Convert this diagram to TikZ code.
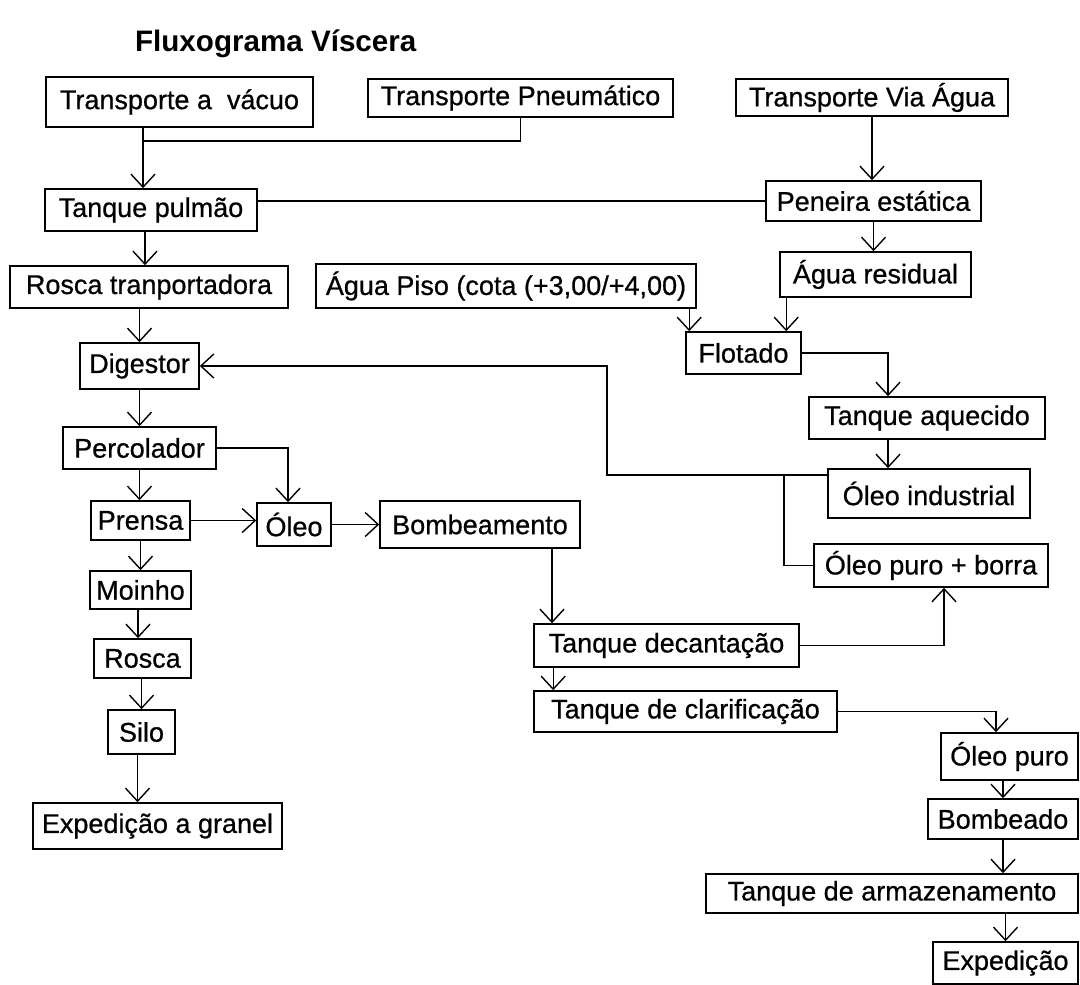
\documentclass[tikz,border=0pt]{standalone}
\usepackage{fontspec}
\setmainfont{Liberation Sans}
\newfontfamily\caixafont{Liberation Sans}[FakeBold=0.7]
\usetikzlibrary{arrows.meta}

\begin{document}
\begin{tikzpicture}[
x=0.5pt, y=-0.5pt,
font=\caixafont\fontsize{13.5}{16}\selectfont,
>={Straight Barb[length=6.5pt,width=12pt]},
caixa/.style={draw, line width=0.8pt, inner sep=0pt},
linha/.style={line width=0.7pt},
seta/.style={->, line width=0.7pt}]
\useasboundingbox (0,0) rectangle (1080,984);

% Titulo
\node[anchor=base west, font=\rmfamily\bfseries\fontsize{14.8}{18}\selectfont] (titulo) at (128,52) {Fluxograma Víscera};

% Caixas - lado esquerdo
\node[caixa, minimum width=133.5pt, minimum height=25pt] (vacuo) at (179.5,102) {Transporte a\ \ vácuo};
\node[caixa, minimum width=152.5pt, minimum height=19pt] (pneum) at (520.5,98) {Transporte Pneumático};
\node[caixa, minimum width=106pt, minimum height=21pt] (pulmao) at (151,210) {Tanque pulmão};
\node[caixa, minimum width=139pt, minimum height=21pt] (roscatr) at (149,287) {Rosca tranportadora};
\node[caixa, minimum width=59.5pt, minimum height=23pt] (digestor) at (139.5,366) {Digestor};
\node[caixa, minimum width=76.5pt, minimum height=21pt] (percolador) at (139.5,448) {Percolador};
\node[caixa, minimum width=49.5pt, minimum height=19.5pt] (prensa) at (140.5,520.5) {Prensa};
\node[caixa, minimum width=37pt, minimum height=21.5pt] (oleo) at (294,524.5) {Óleo};
\node[caixa, minimum width=100pt, minimum height=23.5pt] (bombeamento) at (480,524.5) {Bombeamento};
\node[caixa, minimum width=50.5pt, minimum height=19pt] (moinho) at (140.5,590) {Moinho};
\node[caixa, minimum width=48.5pt, minimum height=19.5pt] (rosca) at (142.5,658.5) {Rosca};
\node[caixa, minimum width=33.5pt, minimum height=22pt] (silo) at (141.5,732) {Silo};
\node[caixa, minimum width=124.5pt, minimum height=23pt] (granel) at (157.5,826) {Expedição a granel};

% Caixas - lado direito
\node[caixa, minimum width=136pt, minimum height=18.5pt] (viaagua) at (872,97.5) {Transporte Via Água};
\node[caixa, minimum width=107.5pt, minimum height=20pt] (peneira) at (873.5,201) {Peneira estática};
\node[caixa, minimum width=190pt, minimum height=22pt] (aguapiso) at (506,286) {Água Piso (cota (+3,00/+4,00)};
\node[caixa, minimum width=95.5pt, minimum height=22.5pt] (aguares) at (875.5,274.5) {Água residual};
\node[caixa, minimum width=57.5pt, minimum height=21pt] (flotado) at (743.5,353) {Flotado};
\node[caixa, minimum width=118pt, minimum height=21pt] (aquecido) at (927,418) {Tanque aquecido};
\node[caixa, minimum width=101pt, minimum height=24.5pt] (industrial) at (929,493.5) {Óleo industrial};
\node[caixa, minimum width=117pt, minimum height=21.5pt] (puroborra) at (931,565.5) {Óleo puro + borra};
\node[caixa, minimum width=132.5pt, minimum height=21.5pt] (decantacao) at (666.5,645.5) {Tanque decantação};
\node[caixa, minimum width=151.5pt, minimum height=20.5pt] (clarificacao) at (685.5,711.5) {Tanque de clarificação};
\node[caixa, minimum width=68.5pt, minimum height=23.5pt] (oleopuro) at (1009.5,756.5) {Óleo puro};
\node[caixa, minimum width=75pt, minimum height=20pt] (bombeado) at (1003,819) {Bombeado};
\node[caixa, minimum width=186pt, minimum height=19.5pt] (armazen) at (892,893.5) {Tanque de armazenamento};
\node[caixa, minimum width=72.5pt, minimum height=21pt] (expedicao) at (1005.5,963) {Expedição};

% Ligacoes
\coordinate (j1) at (143,141);
\draw[seta] (vacuo.south -| j1) -- (pulmao.north -| j1);
\draw[linha] (j1) -| (pneum.south);
\draw[linha] (pulmao.east |- peneira.west) -- (peneira.west);
\draw[seta] (viaagua.south) -- (viaagua.south |- peneira.north);
\draw[seta] (peneira.south) -- (peneira.south |- aguares.north);
\draw[seta] ([xshift=-3pt]pulmao.south) -- ([xshift=-3pt]pulmao.south |- roscatr.north);
\draw[seta] (roscatr.south -| digestor.north) -- (digestor.north);
\draw[seta] ([xshift=2pt]flotado.north west |- aguapiso.south) -- ([xshift=2pt]flotado.north west);
\draw[seta] ([xshift=3.5pt]aguares.south west) -- ([xshift=3.5pt]aguares.south west |- flotado.north);
\draw[seta] (flotado.east) -| ([xshift=-19.5pt]aquecido.north);
\draw[seta] ([xshift=-19.5pt]aquecido.south) -- ([xshift=-19.5pt]aquecido.south |- industrial.north);

% retorno ao digestor
\coordinate (r1) at (607,475);
\coordinate (r2) at (784,475);
\draw[seta] (r1 -| industrial.west) -- (r1) |- (digestor.east);
\draw[linha] (r2) |- (puroborra.west);

\draw[seta] (digestor.south) -- (percolador.north);
\draw[seta] (percolador.east) -| ([xshift=-3pt]oleo.north);
\draw[seta] (percolador.south) -- (percolador.south |- prensa.north);
\draw[seta] (prensa.east) -- (prensa.east -| oleo.west);
\draw[seta] (oleo.east) -- (oleo.east -| bombeamento.west);
\draw[seta] (prensa.south) -- (prensa.south |- moinho.north);
\draw[seta] ([xshift=-1.25pt]moinho.south) -- ([xshift=-1.25pt]moinho.south |- rosca.north);
\draw[seta] (rosca.south -| silo.north) -- (silo.north);
\draw[seta] ([xshift=-2pt]silo.south) -- ([xshift=-2pt]silo.south |- granel.north);

\draw[seta] ([xshift=36pt]bombeamento.south) -- ([xshift=36pt]bombeamento.south |- decantacao.north);
\draw[seta] (decantacao.east) -| ([xshift=6.5pt]puroborra.south);
\draw[seta] ([xshift=10pt]decantacao.south west) -- ([xshift=10pt]decantacao.south west |- clarificacao.north);
\draw[seta] (clarificacao.east) -| ([xshift=-6.75pt]oleopuro.north);
\draw[seta] (oleopuro.south -| bombeado.north) -- (bombeado.north);
\draw[seta] (bombeado.south) -- (bombeado.south |- armazen.north);
\draw[seta] (armazen.south -| expedicao.north) -- (expedicao.north);

\end{tikzpicture}
\end{document}
